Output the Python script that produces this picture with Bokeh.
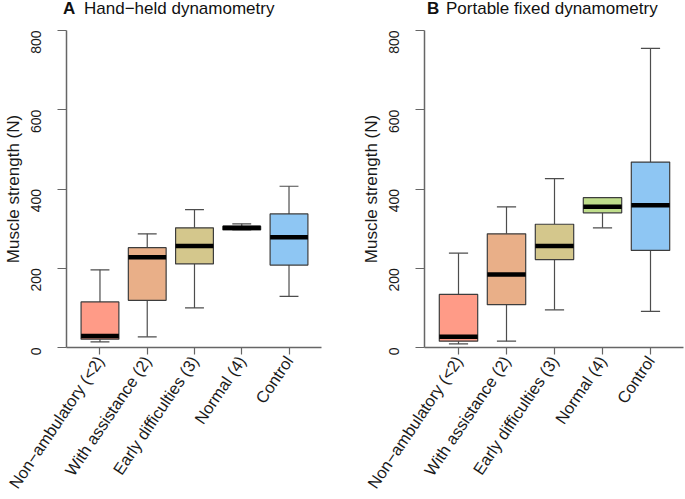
import math
from bokeh.plotting import figure
from bokeh.models import Range1d, FixedTicker, ColumnDataSource, Div
from bokeh.layouts import row, column
from bokeh.embed import file_html
from bokeh.resources import INLINE

categories = ["Non\u2212ambulatory (<2)", "With assistance (2)", "Early difficulties (3)", "Normal (4)", "Control"]
positions = [1, 2, 3, 4, 5]
colors = ["#FF9B87", "#E9AF88", "#D4C78C", "#BFDD8B", "#8EC6F3"]

# Panel A: Hand-held dynamometry
a_lo = [14, 27, 100, 297, 129]
a_q1 = [21, 119, 211, 297, 208]
a_med = [29, 228, 256, 302, 278]
a_q3 = [115, 252, 302, 306, 337]
a_hi = [196, 287, 348, 312, 407]

# Panel B: Portable fixed dynamometry
b_lo = [9, 16, 95, 302, 91]
b_q1 = [16, 108, 222, 340, 245]
b_med = [27, 184, 256, 355, 359]
b_q3 = [134, 287, 311, 378, 468]
b_hi = [238, 355, 426, 378, 755]

y_ticks = [0, 200, 400, 600, 800]

FONT = "Liberation Sans"
BOX_W = 0.8
STAPLE_W = 0.4
X_START = 1 - 34 / 48.0
FRAME_W = 259


def make_panel(lo, q1, med, q3, hi, width, left_b, right_b):
    x_end = X_START + FRAME_W / 48.0
    p = figure(width=width, height=481,
               x_range=Range1d(X_START, x_end), y_range=Range1d(0, 800),
               output_backend="svg", toolbar_location=None,
               min_border_left=left_b, min_border_right=right_b,
               min_border_top=12, min_border_bottom=148)
    p.title_location = None
    p.outline_line_color = None
    p.xgrid.visible = False
    p.ygrid.visible = False
    p.background_fill_color = "white"
    p.border_fill_color = "white"

    src = ColumnDataSource(dict(x=positions, lo=lo, q1=q1, med=med, q3=q3, hi=hi, color=colors,
                                xl=[v - STAPLE_W / 2 for v in positions],
                                xr=[v + STAPLE_W / 2 for v in positions],
                                bl=[v - BOX_W / 2 for v in positions],
                                br=[v + BOX_W / 2 for v in positions]))
    wcol = "#4d4d4d"
    p.segment(x0="x", y0="q3", x1="x", y1="hi", source=src, line_color=wcol, line_width=1.2)
    p.segment(x0="x", y0="q1", x1="x", y1="lo", source=src, line_color=wcol, line_width=1.2)
    p.segment(x0="xl", y0="hi", x1="xr", y1="hi", source=src, line_color=wcol, line_width=1.2)
    p.segment(x0="xl", y0="lo", x1="xr", y1="lo", source=src, line_color=wcol, line_width=1.2)
    p.vbar(x="x", width=BOX_W, top="q3", bottom="q1", source=src, fill_color="color",
           line_color="#3d3d3d", line_width=1.2)
    p.segment(x0="bl", y0="med", x1="br", y1="med", source=src, line_color="black", line_width=4.5)

    for ax in (p.xaxis[0], p.yaxis[0]):
        ax.axis_line_color = "#666666"
        ax.axis_line_width = 1.5
        ax.major_tick_line_color = "#666666"
        ax.major_tick_line_width = 1.2
        ax.major_tick_in = 0
        ax.minor_tick_line_color = None
        ax.major_label_text_font = FONT
        ax.major_label_text_color = "#1a1a1a"

    p.yaxis.ticker = FixedTicker(ticks=y_ticks)
    p.yaxis.major_tick_out = 9
    p.yaxis.major_label_orientation = math.pi / 2
    p.yaxis.major_label_text_font_size = "14px"
    p.yaxis.major_label_standoff = 22
    p.yaxis.axis_label = "Muscle strength (N)"
    p.yaxis.axis_label_text_font = FONT
    p.yaxis.axis_label_text_font_size = "17px"
    p.yaxis.axis_label_text_font_style = "normal"
    p.yaxis.axis_label_text_color = "#1a1a1a"
    p.yaxis.axis_label_standoff = 0

    p.xaxis.ticker = FixedTicker(ticks=positions)
    p.xaxis.major_label_overrides = {v: c for v, c in zip(positions, categories)}
    p.xaxis.major_tick_out = 7
    p.xaxis.major_label_orientation = math.radians(56)
    p.xaxis.major_label_text_font_size = "16.5px"
    p.xaxis.major_label_standoff = 3
    return p


pA = make_panel(a_lo, a_q1, a_med, a_q3, a_hi, 342, 62, 21)
pB = make_panel(b_lo, b_q1, b_med, b_q3, b_hi, 343, 82, 2)

span = "position:absolute;top:0px;white-space:nowrap;"
title_html = (
    '<div style="position:relative;width:685px;height:18px;font-family:\'Liberation Sans\';'
    'font-size:17px;line-height:18px;color:#111111;">'
    '<span style="' + span + 'left:63px;font-weight:bold;">A</span>'
    '<span style="' + span + 'left:84px;">Hand\u2212held dynamometry</span>'
    '<span style="' + span + 'left:427px;font-weight:bold;">B</span>'
    '<span style="' + span + 'left:446px;">Portable fixed dynamometry</span>'
    '</div>'
)
titles = Div(text=title_html, width=685, height=18, margin=(0, 0, 0, 0))

layout = column(titles, row(pA, pB))

open("out.html", "w").write(file_html(layout, INLINE))
